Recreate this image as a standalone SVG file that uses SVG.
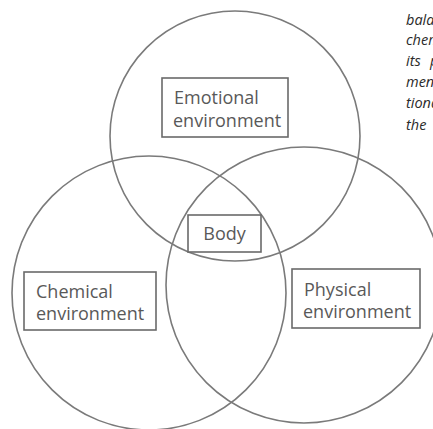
<svg xmlns="http://www.w3.org/2000/svg" width="433" height="429" viewBox="0 0 433 429">
  <style>
    .ring { fill: none; stroke: #7a7a7a; stroke-width: 1.6; }
    .box { fill: #ffffff; stroke: #6a6a6a; stroke-width: 1.6; }
    .label { font-family: "Open Sans", "Noto Sans", "DejaVu Sans", sans-serif; font-size: 18px; fill: #595959; }
    .note { font-family: "Open Sans", "Noto Sans", "DejaVu Sans", sans-serif; font-size: 14.5px; font-style: italic; fill: #2a2a2a; }
  </style>
  <rect width="433" height="429" fill="#ffffff"/>

  <!-- side text running off the right edge -->
  <g id="side-text" class="note">
    <text x="406" y="25">balan</text>
    <text x="406" y="45">chem</text>
    <text x="406" y="66">its</text>
    <text x="430" y="66">p</text>
    <text x="406" y="87">ment</text>
    <text x="406" y="108">tiona</text>
    <text x="406" y="130">the</text>
  </g>

  <!-- the three overlapping environments -->
  <g id="connectors">
    <circle class="ring" cx="235" cy="136" r="125"/>
    <circle class="ring" cx="149" cy="293" r="137"/>
    <circle class="ring" cx="304" cy="285" r="138"/>
  </g>

  <g id="emotional">
    <rect class="box" x="162" y="78" width="126" height="59"/>
    <text class="label" x="174" y="104">Emotional</text>
    <text class="label" x="173" y="127">environment</text>
  </g>

  <g id="body">
    <rect class="box" x="188" y="215" width="73" height="37"/>
    <text class="label" x="224.5" y="240" text-anchor="middle">Body</text>
  </g>

  <g id="chemical">
    <rect class="box" x="24" y="272" width="132" height="58"/>
    <text class="label" x="36" y="298">Chemical</text>
    <text class="label" x="36" y="320">environment</text>
  </g>

  <g id="physical">
    <rect class="box" x="292" y="269" width="128" height="59"/>
    <text class="label" x="304" y="296">Physical</text>
    <text class="label" x="303" y="318">environment</text>
  </g>
</svg>
